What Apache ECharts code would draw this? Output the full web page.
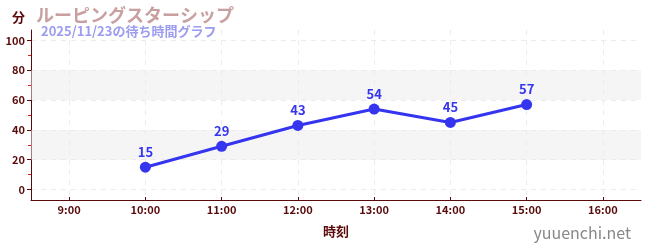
<!DOCTYPE html>
<html><head><meta charset="utf-8">
<script src="https://cdn.jsdelivr.net/npm/echarts@6/dist/echarts.min.js"></script>
<style>html,body{margin:0;padding:0;background:#fff}#c{width:650px;height:250px}</style>
</head><body><div id="c"></div>
<script>
const times = ['10:00','11:00','12:00','13:00','14:00','15:00'];
const waits = [15, 29, 43, 54, 45, 57];
const xTickHours = [9, 10, 11, 12, 13, 14, 15, 16];
const yTicks = [0, 20, 40, 60, 80, 100];
const yMinorTicks = [10, 30, 50, 70, 90];
const shadedBands = [[20, 40], [60, 80]];
const titleText = 'ルーピングスターシップ';
const subText = '2025/11/23の待ち時間グラフ';

function toHours(t){ const p = t.split(':'); return +p[0] + (+p[1])/60; }
const FONT = '"Noto Sans CJK JP", "Noto Sans", sans-serif';
const AX = '#5a0a0a';
const Y_MIN = -7, Y_MAX = 107;
const chart = echarts.init(document.getElementById('c'), null, {renderer:'canvas'});
chart.setOption({
  animation:false,
  textStyle:{fontFamily:FONT},
  title:[
    {text:titleText, left:31, top:1, textStyle:{fontSize:18, fontWeight:'bold', color:'#c9a0a0', fontFamily:FONT}},
    {text:subText, left:36, top:20, textStyle:{fontSize:13, fontWeight:'bold', color:'#9c9cf0', fontFamily:FONT}},
    {text:'yuuenchi.net', right:14, bottom:4, textStyle:{fontSize:16, fontWeight:'normal', color:'#888', fontFamily:FONT}}
  ],
  grid:{left:31, right:9, top:30, bottom:50, containLabel:false},
  xAxis:{
    type:'value', min:8.5, max:16.5,
    name:'時刻', nameLocation:'middle', nameGap:25,
    nameTextStyle:{color:AX, fontSize:13, fontWeight:'bold', fontFamily:FONT},
    axisLine:{show:true, onZero:false, lineStyle:{color:AX, width:1}},
    axisTick:{show:true, inside:true, lineStyle:{color:AX}, length:3, customValues:xTickHours},
    axisLabel:{color:AX, fontSize:11, fontWeight:'bold', margin:4, customValues:xTickHours,
      formatter:function(v){ return Math.round(v)+':00'; }},
    splitLine:{show:true, lineStyle:{color:'#ececec', type:[5,5]}}
  },
  yAxis:[{
    type:'value', min:Y_MIN, max:Y_MAX,
    name:'分', nameLocation:'end', nameGap:6,
    nameTextStyle:{color:AX, fontSize:13, fontWeight:'bold', align:'right', padding:[0,6,0,0], fontFamily:FONT},
    axisLine:{show:true, onZero:false, lineStyle:{color:AX, width:1}},
    axisTick:{show:true, lineStyle:{color:AX}, length:4, customValues:yTicks},
    axisLabel:{color:AX, fontSize:11, fontWeight:'bold', margin:6, customValues:yTicks},
    splitLine:{show:true, lineStyle:{color:'#ececec', type:[5,5]}}
  },{
    type:'value', min:Y_MIN, max:Y_MAX, position:'left', offset:0,
    axisLine:{show:false, onZero:false},
    axisTick:{show:true, lineStyle:{color:'#e02020', width:1}, length:3, customValues:yMinorTicks},
    axisLabel:{show:false},
    splitLine:{show:false}
  }],
  series:[{
    type:'line',
    data: times.map((t,i)=>[toHours(t), waits[i]]),
    symbol:'circle', symbolSize:11,
    itemStyle:{color:'#3535f0'},
    lineStyle:{color:'#3535f0', width:3},
    label:{show:true, position:'top', distance:3, color:'#3535f0', fontSize:13, fontWeight:'bold', fontFamily:FONT},
    markArea:{silent:true, itemStyle:{color:'rgba(235,235,235,0.5)'},
      data: shadedBands.map(b=>[{yAxis:b[0]},{yAxis:b[1]}])},
    z:3
  }]
});
</script></body></html>
